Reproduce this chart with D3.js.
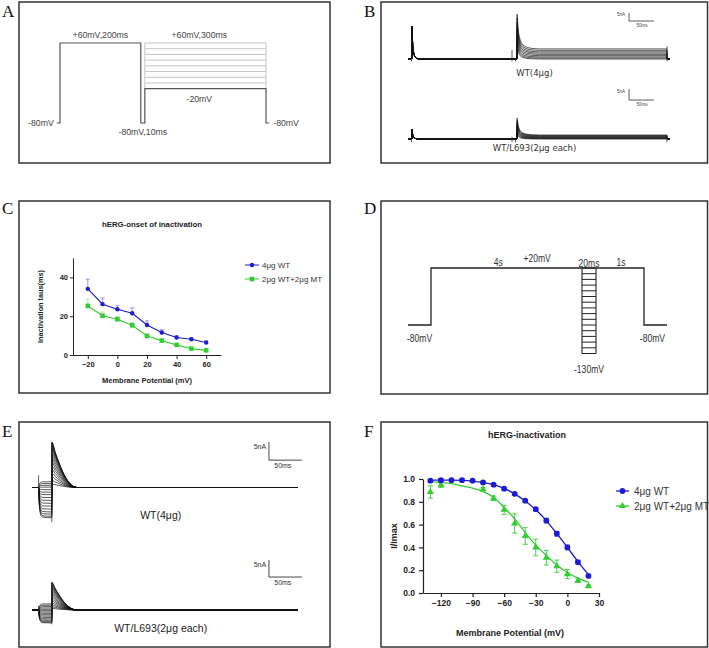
<!DOCTYPE html>
<html>
<head>
<meta charset="utf-8">
<script src="https://cdn.jsdelivr.net/npm/d3@7"></script>
<style>
  body { margin: 0; background: #fff; }
</style>
</head>
<body>
<div id="chart"></div>
<script>
// ---------- A: onset of inactivation protocol ----------
var aStepV = [-80, 60, -80, -20, -80],
    aStepDur = [8, 200, 10, 300, 8],
    aTestV = [60, 50, 40, 30, 20, 10, 0, -10, -20];

// ---------- B: current traces (nA) ----------
var bSpike1 = [20.6, 4.5],                       // first pulse peak, top / bottom
    bTopPeaks = [28, 25.5, 23, 20.5, 18, 15.5, 13, 10.5, 8],
    bTopPlat  = [6.3, 5.4, 4.5, 3.7, 2.9, 2.1, 1.3, 0.6, 0],
    bBotPeaks = [9.5, 8.6, 7.7, 6.8, 5.9, 5.0, 4.1, 3.2, 2.3],
    bBotPlat  = [1.8, 1.55, 1.3, 1.05, 0.8, 0.6, 0.4, 0.2, 0],
    spikeT = [0, 1, 3, 6, 10, 14],
    spikeFrac = [1, 0.55, 0.22, 0.07, 0.015, 0],
    decT = [0, 2, 5, 10, 18, 30, 45],
    decFrac = [1, 0.6, 0.33, 0.15, 0.06, 0.015, 0];

// ---------- C: onset of inactivation taus ----------
var cVolt = [-20, -10, 0, 10, 20, 30, 40, 50, 60],
    cWT    = [34.1, 26.2, 23.6, 21.5, 15.5, 11.6, 9.0, 8.1, 6.4],
    cWTErr = [5.0, 3.2, 2.0, 2.8, 2.1, 1.4, 0.9, 0.7, 1.0],
    cMT    = [25.3, 20.2, 18.4, 15.3, 9.8, 7.4, 5.2, 3.3, 2.4],
    cMTErr = [3.5, 2.0, 1.5, 1.5, 1.0, 0.8, 0.6, 0.5, 0.4];

// ---------- D: steady-state inactivation protocol ----------
var dStepT = [-300, 0, 0, 5000, 5000, 5300],
    dStepV = [-80, -80, 20, 20, -80, -80],
    dTestV = [20, 10, 0, -10, -20, -30, -40, -50, -60, -70, -80, -90, -100, -110, -120, -130];

// ---------- E: current traces (nA) ----------
var eTopStep = [-8.4, -8.0, -7.4, -6.8, -6.0, -5.2, -4.4, -3.6, -2.8, -2.0, -1.3, -0.6, 0.1, 0.6, 1.1, 1.6],
    eTopTail = [12.6, 12.5, 12.3, 12.0, 11.5, 10.8, 10.0, 9.0, 8.0, 7.0, 6.0, 5.0, 4.0, 3.0, 2.0, 1.0],
    eBotStep = [-3.8, -3.6, -3.3, -3.0, -2.6, -2.2, -1.8, -1.4, -1.0, -0.6, -0.2, 0.2, 0.6, 1.0, 1.4, 1.8],
    eBotTail = [8.2, 8.0, 7.7, 7.3, 6.8, 6.3, 5.7, 5.1, 4.5, 3.9, 3.3, 2.7, 2.1, 1.5, 1.0, 0.5],
    stepT = [0, 1, 3, 6, 20],
    stepFrac = [0, 0.55, 0.88, 0.98, 1],
    tailT = [0, 5, 11, 17, 24, 31, 38],
    tailFrac = [1, 0.78, 0.54, 0.33, 0.15, 0.04, 0];

// ---------- F: steady-state inactivation ----------
var fVolt  = [-130, -120, -110, -100, -90, -80, -70, -60, -50, -40, -30, -20, -10, 0, 10, 20],
    fWT    = [0.985, 0.99, 0.99, 0.99, 0.985, 0.97, 0.95, 0.915, 0.87, 0.81, 0.735, 0.635, 0.52, 0.40, 0.27, 0.15],
    fWTErr = [0.01, 0.01, 0.01, 0.01, 0.01, 0.01, 0.01, 0.01, 0.01, 0.01, 0.015, 0.02, 0.02, 0.02, 0.015, 0.01],
    fWTFit = [0.99, 0.99, 0.99, 0.988, 0.982, 0.97, 0.95, 0.917, 0.87, 0.807, 0.73, 0.635, 0.52, 0.40, 0.275, 0.16],
    fMTVolt = [-130, -120, -80, -70, -60, -50, -40, -30, -20, -10, 0, 10, 20],
    fMT    = [0.886, 0.947, 0.91, 0.83, 0.73, 0.61, 0.50, 0.40, 0.31, 0.235, 0.166, 0.108, 0.06],
    fMTErr = [0.054, 0.02, 0.015, 0.02, 0.04, 0.085, 0.073, 0.073, 0.064, 0.054, 0.04, 0.015, 0.01],
    fMTFit = [0.977, 0.97, 0.96, 0.94, 0.92, 0.89, 0.84, 0.75, 0.65, 0.53, 0.42, 0.33, 0.245, 0.18, 0.13, 0.093];

var blue = "#1c1cd2", green = "#33cc33",
    sans = "'Liberation Sans', Arial, sans-serif",
    serif = "'Liberation Serif', 'Times New Roman', serif";

var svg = d3.select("#chart").append("svg")
    .attr("width", 709).attr("height", 648);
svg.append("rect").attr("width", 709).attr("height", 648).attr("fill", "#fff");

function frame(label, x0, y0, x1, y1, lx, ly) {
  svg.append("rect").attr("x", x0).attr("y", y0)
      .attr("width", x1 - x0).attr("height", y1 - y0)
      .attr("fill", "none").attr("stroke", "#333").attr("stroke-width", 1.5);
  svg.append("text").attr("x", lx).attr("y", ly).text(label)
      .style("font-family", serif).style("font-size", "17px").attr("fill", "#111");
}
frame("A", 19, 2, 330, 163, 2, 17);
frame("B", 381, 2, 707.5, 163, 364, 17);
frame("C", 19, 201, 330, 393, 2, 214);
frame("D", 381, 201, 707.5, 394, 364, 214);
frame("E", 19, 422, 330, 647, 2, 437);
frame("F", 381, 422, 707.5, 647, 364, 437);

function txt(g, x, y, s, size, opts) {
  opts = opts || {};
  var t = g.append("text").text(s)
      .attr("text-anchor", opts.anchor || "middle")
      .attr("font-weight", opts.weight || "normal")
      .attr("fill", opts.fill || "#222")
      .style("font-family", opts.family || sans)
      .style("font-size", size + "px");
  if (opts.squeeze) {
    t.attr("transform", "translate(" + x + "," + y + ") scale(" + opts.squeeze + ",1)");
  } else {
    t.attr("x", x).attr("y", y);
  }
  return t;
}

// ================= A =================
(function() {
  var g = svg.append("g");
  var x = d3.scaleLinear().domain([0, 510]).range([60, 266]),
      y = d3.scaleLinear().domain([-80, 60]).range([123, 43]);
  var t0 = -aStepDur[0], pts = [], t = t0;
  aStepV.forEach(function(v, i) {
    pts.push([t, v]); t += aStepDur[i]; pts.push([t, v]);
  });
  var line = d3.line().x(function(d) { return x(d[0]); }).y(function(d) { return y(d[1]); });
  var tStart = aStepDur[1] + aStepDur[2], tEnd = tStart + aStepDur[3];
  aTestV.slice(0, aTestV.length - 1).forEach(function(v) {
    g.append("path").attr("d", line([[tStart, v], [tEnd, v]]))
        .attr("stroke", "#c4c4c4").attr("stroke-width", 1).attr("fill", "none");
  });
  [tStart, tEnd].forEach(function(tt) {
    g.append("path").attr("d", line([[tt, aTestV[aTestV.length - 1]], [tt, aTestV[0]]]))
        .attr("stroke", "#c4c4c4").attr("stroke-width", 1).attr("fill", "none");
  });
  g.append("path").attr("d", line(pts))
      .attr("stroke", "#555").attr("stroke-width", 1.2).attr("fill", "none");
  var o = {fill: "#444", squeeze: 0.92};
  txt(g, x(100), y(60) - 5, "+60mV,200ms", 9.5, o);
  txt(g, x(345), y(60) - 5, "+60mV,300ms", 9.5, o);
  txt(g, x(345), y(-20) + 13, "-20mV", 9.5, o);
  txt(g, x(205), y(-80) + 12, "-80mV,10ms", 9.5, o);
  txt(g, x(t0) - 3, y(-80) + 3, "-80mV", 9.5, {fill: "#444", anchor: "end", squeeze: 0.92});
  txt(g, x(t) + 4, y(-80) + 3, "-80mV", 9.5, {fill: "#444", anchor: "start", squeeze: 0.92});
})();

// ================= B =================
(function() {
  var g = svg.append("g");
  var x = d3.scaleLinear().domain([0, 510]).range([412, 667]);
  var yTop = d3.scaleLinear().domain([0, 5]).range([59, 51]),
      yBot = d3.scaleLinear().domain([0, 5]).range([139, 128]);
  function trace(s1, peak, plat) {
    var pts = [[-8, 0], [0, 0]];
    spikeT.forEach(function(t, i) { pts.push([0.05 + t, s1 * spikeFrac[i]]); });
    pts.push([210, 0]);
    decT.forEach(function(t, i) { pts.push([210.05 + t, plat + (peak - plat) * decFrac[i]]); });
    pts.push([510, plat], [510.05, 0], [516, 0]);
    return pts;
  }
  function draw(y, s1, peaks, plats, tickHi, label, ly, barBase) {
    var line = d3.line().x(function(d) { return x(d[0]); }).y(function(d) { return y(d[1]); })
        .curve(d3.curveMonotoneX);
    peaks.forEach(function(p, i) {
      g.append("path").attr("d", line(trace(s1, p, plats[i])))
          .attr("fill", "none").attr("stroke", "#111").attr("stroke-width", 0.7);
    });
    [-1, 200, 207, 510].forEach(function(t, i) {
      g.append("line").attr("x1", x(t)).attr("x2", x(t))
          .attr("y1", y(-1.5)).attr("y2", y(tickHi[i]))
          .attr("stroke", "#333").attr("stroke-width", 0.8);
    });
    txt(g, (x(200) + x(250)) / 2 + 10, ly, label, 8.5, {family: "'DejaVu Sans', sans-serif", fill: "#333"});
    var bx = x(434);
    g.append("path").attr("d", "M" + bx + "," + y(barBase + 5) + "V" + y(barBase) + "H" + x(484))
        .attr("fill", "none").attr("stroke", "#333").attr("stroke-width", 0.8);
    txt(g, bx - 8, y(barBase + 3), "5nA", 4.5, {fill: "#444"});
    txt(g, x(460), y(barBase) + 6, "50ms", 4.5, {fill: "#444"});
  }
  draw(yTop, bSpike1[0], bTopPeaks, bTopPlat, [0, 5.6, 0, 8], "WT(4μg)", 76, 23.75);
  draw(yBot, bSpike1[1], bBotPeaks, bBotPlat, [0, 1, 0, 1.5], "WT/L693(2μg each)", 151, 17.7);
})();

// ================= C =================
(function() {
  var g = svg.append("g");
  var x = d3.scaleLinear().domain([-30, 70]).range([73, 221]),
      y = d3.scaleLinear().domain([0, 50]).range([355, 258]);
  var xa = g.append("g").attr("transform", "translate(0," + y(0) + ")")
      .call(d3.axisBottom(x).tickValues([-20, 0, 20, 40, 60]).tickSize(4).tickSizeOuter(0));
  var ya = g.append("g").attr("transform", "translate(" + x(-30) + ",0)")
      .call(d3.axisLeft(y).tickValues([0, 20, 40]).tickSize(3).tickSizeOuter(0).tickPadding(2));
  [xa, ya].forEach(function(a) {
    a.attr("font-family", sans);
    a.select(".domain").attr("stroke", "#222");
    a.selectAll(".tick line").attr("stroke", "#222");
    a.selectAll(".tick text").attr("font-size", 7.5).attr("font-weight", "bold").attr("fill", "#222");
  });
  txt(g, 152, 227, "hERG-onset of inactivation", 7.8, {weight: "bold"});
  txt(g, (x(-30) + x(70)) / 2, 383, "Membrane Potential (mV)", 7.5, {weight: "bold"});
  txt(g, 0, 0, "Inactivation taus(ms)", 7.3, {weight: "bold"})
      .attr("transform", "translate(43," + y(25) + ") rotate(-90)");
  var line = d3.line().x(function(d, i) { return x(cVolt[i]); }).y(function(d) { return y(d); });
  function errs(vals, err, col) {
    vals.forEach(function(v, i) {
      var cx = x(cVolt[i]);
      g.append("path").attr("d", "M" + cx + "," + y(v) + "V" + y(v + err[i]) + "M" + (cx - 2) + "," + y(v + err[i]) + "H" + (cx + 2))
          .attr("stroke", col).attr("stroke-width", 0.8).attr("fill", "none");
    });
  }
  errs(cMT, cMTErr, "#9be39b");
  errs(cWT, cWTErr, "#7c7ce6");
  g.append("path").attr("d", line(cMT)).attr("fill", "none").attr("stroke", green).attr("stroke-width", 1.1);
  g.append("path").attr("d", line(cWT)).attr("fill", "none").attr("stroke", blue).attr("stroke-width", 1.1);
  cMT.forEach(function(v, i) {
    g.append("rect").attr("x", x(cVolt[i]) - 2.3).attr("y", y(v) - 2.3)
        .attr("width", 4.6).attr("height", 4.6).attr("fill", green);
  });
  cWT.forEach(function(v, i) {
    g.append("circle").attr("cx", x(cVolt[i])).attr("cy", y(v)).attr("r", 2.2).attr("fill", blue);
  });
  g.append("line").attr("x1", 245).attr("x2", 259).attr("y1", 265).attr("y2", 265).attr("stroke", blue);
  g.append("circle").attr("cx", 252).attr("cy", 265).attr("r", 2.2).attr("fill", blue);
  txt(g, 262, 268, "4μg WT", 8, {anchor: "start", fill: "#333"});
  g.append("line").attr("x1", 245).attr("x2", 259).attr("y1", 279).attr("y2", 279).attr("stroke", green);
  g.append("rect").attr("x", 249.7).attr("y", 276.7).attr("width", 4.6).attr("height", 4.6).attr("fill", green);
  txt(g, 262, 282, "2μg WT+2μg MT", 8, {anchor: "start", fill: "#333"});
})();

// ================= D =================
(function() {
  var g = svg.append("g");
  var x = d3.scaleLinear().domain([-300, 0, 4000, 4020, 5000, 5300]).range([408, 431, 582, 596, 644, 667]),
      y = d3.scaleLinear().domain([-80, 20]).range([325, 268]);
  var line = d3.line().x(function(d) { return x(d[0]); }).y(function(d) { return y(d[1]); });
  g.append("path").attr("d", line(dStepT.map(function(t, i) { return [t, dStepV[i]]; })))
      .attr("fill", "none").attr("stroke", "#222").attr("stroke-width", 1.3);
  dTestV.forEach(function(v) {
    g.append("path").attr("d", line([[4000, v], [4020, v]]))
        .attr("stroke", "#222").attr("stroke-width", 1);
  });
  [4000, 4020].forEach(function(t) {
    g.append("path").attr("d", line([[t, dTestV[0]], [t, dTestV[dTestV.length - 1]]]))
        .attr("stroke", "#222").attr("stroke-width", 1.1);
  });
  var o = {fill: "#333", squeeze: 0.78};
  txt(g, x(1780), 266, "4s", 11, o);
  txt(g, x(2810), 262, "+20mV", 11, o);
  txt(g, x(4010), 267, "20ms", 11, o);
  txt(g, x(4530), 266, "1s", 11, o);
  txt(g, x(-150), 342, "-80mV", 11, o);
  txt(g, x(5110), 342, "-80mV", 11, o);
  txt(g, x(4010), 373, "-130mV", 11, o);
})();

// ================= E =================
(function() {
  var g = svg.append("g");
  var x = d3.scaleLinear().domain([-10, 393]).range([32, 298]);
  var yTop = d3.scaleLinear().domain([0, 5]).range([487.5, 469.5]),
      yBot = d3.scaleLinear().domain([0, 5]).range([610, 593]);
  function trace(lvl, peak) {
    var pts = [[-10, 0]];
    stepT.forEach(function(t, i) { pts.push([t, lvl * stepFrac[i]]); });
    tailT.forEach(function(t, i) { pts.push([20.05 + t, peak * tailFrac[i]]); });
    pts.push([393, 0]);
    return pts;
  }
  function draw(y, steps, tails, capA, capB, label, ly, barBase) {
    var line = d3.line().x(function(d) { return x(d[0]); }).y(function(d) { return y(d[1]); })
        .curve(d3.curveMonotoneX);
    steps.forEach(function(s, i) {
      g.append("path").attr("d", line(trace(s, tails[i])))
          .attr("fill", "none").attr("stroke", "#111").attr("stroke-width", 0.7);
    });
    g.append("line").attr("x1", x(0)).attr("x2", x(0)).attr("y1", y(capA[0])).attr("y2", y(capA[1]))
        .attr("stroke", "#333").attr("stroke-width", 0.8);
    g.append("line").attr("x1", x(20)).attr("x2", x(20)).attr("y1", y(capB[0])).attr("y2", y(capB[1]))
        .attr("stroke", "#333").attr("stroke-width", 0.8);
    txt(g, x(185), ly, label, 10.5, {fill: "#222"});
    var bx = x(349);
    g.append("path").attr("d", "M" + bx + "," + y(barBase + 5) + "V" + y(barBase) + "H" + x(399))
        .attr("fill", "none").attr("stroke", "#333").attr("stroke-width", 0.9);
    txt(g, bx - 9, y(barBase + 3), "5nA", 7, {fill: "#333"});
    txt(g, x(370), y(barBase) + 8, "50ms", 7, {fill: "#333"});
  }
  draw(yTop, eTopStep, eTopTail, [3.4, -0.7], [12.6, -9.6], "WT(4μg)", 519, 7.6);
  draw(yBot, eBotStep, eBotTail, [1.2, -0.5], [8.2, -4.2], "WT/L693(2μg each)", 632, 9.7);
})();

// ================= F =================
(function() {
  var g = svg.append("g");
  var x = d3.scaleLinear().domain([-137, 30]).range([423, 599]),
      y = d3.scaleLinear().domain([0, 1]).range([593, 479]);
  var xa = g.append("g").attr("transform", "translate(0," + y(0) + ")")
      .call(d3.axisBottom(x).tickValues([-120, -90, -60, -30, 0, 30]).tickSize(4).tickSizeOuter(0));
  var ya = g.append("g").attr("transform", "translate(" + x(-137) + ",0)")
      .call(d3.axisLeft(y).tickValues([0, 0.2, 0.4, 0.6, 0.8, 1.0]).tickFormat(d3.format(".1f"))
        .tickSize(4).tickSizeOuter(0).tickPadding(4));
  [xa, ya].forEach(function(a) {
    a.attr("font-family", sans);
    a.select(".domain").attr("stroke", "#222").attr("stroke-width", 1.2);
    a.selectAll(".tick line").attr("stroke", "#222").attr("stroke-width", 1.2);
    a.selectAll(".tick text").attr("font-size", 8.5).attr("font-weight", "bold").attr("fill", "#222");
  });
  txt(g, 527, 438, "hERG-inactivation", 9, {weight: "bold"});
  txt(g, 510, 636, "Membrane Potential (mV)", 9, {weight: "bold"});
  txt(g, 0, 0, "I/Imax", 9, {weight: "bold"})
      .attr("transform", "translate(397," + y(0.5) + ") rotate(-90)");
  var fit = d3.line().x(function(d, i) { return x(fVolt[i]); }).y(function(d) { return y(d); })
      .curve(d3.curveMonotoneX);
  g.append("path").attr("d", fit(fMTFit)).attr("fill", "none").attr("stroke", green).attr("stroke-width", 1.3);
  g.append("path").attr("d", fit(fWTFit)).attr("fill", "none").attr("stroke", blue).attr("stroke-width", 1.3);
  function errs(xs, vals, err, col) {
    vals.forEach(function(v, i) {
      var cx = x(xs[i]), lo = y(v - err[i]), hi = y(v + err[i]);
      g.append("path").attr("d", "M" + cx + "," + lo + "V" + hi +
          "M" + (cx - 2.5) + "," + hi + "H" + (cx + 2.5) + "M" + (cx - 2.5) + "," + lo + "H" + (cx + 2.5))
          .attr("stroke", col).attr("stroke-width", 0.9).attr("fill", "none");
    });
  }
  errs(fMTVolt, fMT, fMTErr, green);
  errs(fVolt, fWT, fWTErr, blue);
  var tri = d3.symbol().type(d3.symbolTriangle).size(22);
  fMT.forEach(function(v, i) {
    g.append("path").attr("d", tri())
        .attr("transform", "translate(" + x(fMTVolt[i]) + "," + y(v) + ")").attr("fill", green);
  });
  fWT.forEach(function(v, i) {
    g.append("circle").attr("cx", x(fVolt[i])).attr("cy", y(v)).attr("r", 2.9).attr("fill", blue);
  });
  g.append("line").attr("x1", 616).attr("x2", 629).attr("y1", 491).attr("y2", 491).attr("stroke", blue).attr("stroke-width", 1.3);
  g.append("circle").attr("cx", 622.5).attr("cy", 491).attr("r", 2.9).attr("fill", blue);
  txt(g, 634, 494.5, "4μg WT", 10, {anchor: "start", fill: "#333"});
  g.append("line").attr("x1", 616).attr("x2", 629).attr("y1", 506).attr("y2", 506).attr("stroke", green).attr("stroke-width", 1.3);
  g.append("path").attr("d", tri()).attr("transform", "translate(622.5,506)").attr("fill", green);
  txt(g, 634, 509.5, "2μg WT+2μg MT", 10, {anchor: "start", fill: "#333"});
})();
</script>
</body>
</html>
